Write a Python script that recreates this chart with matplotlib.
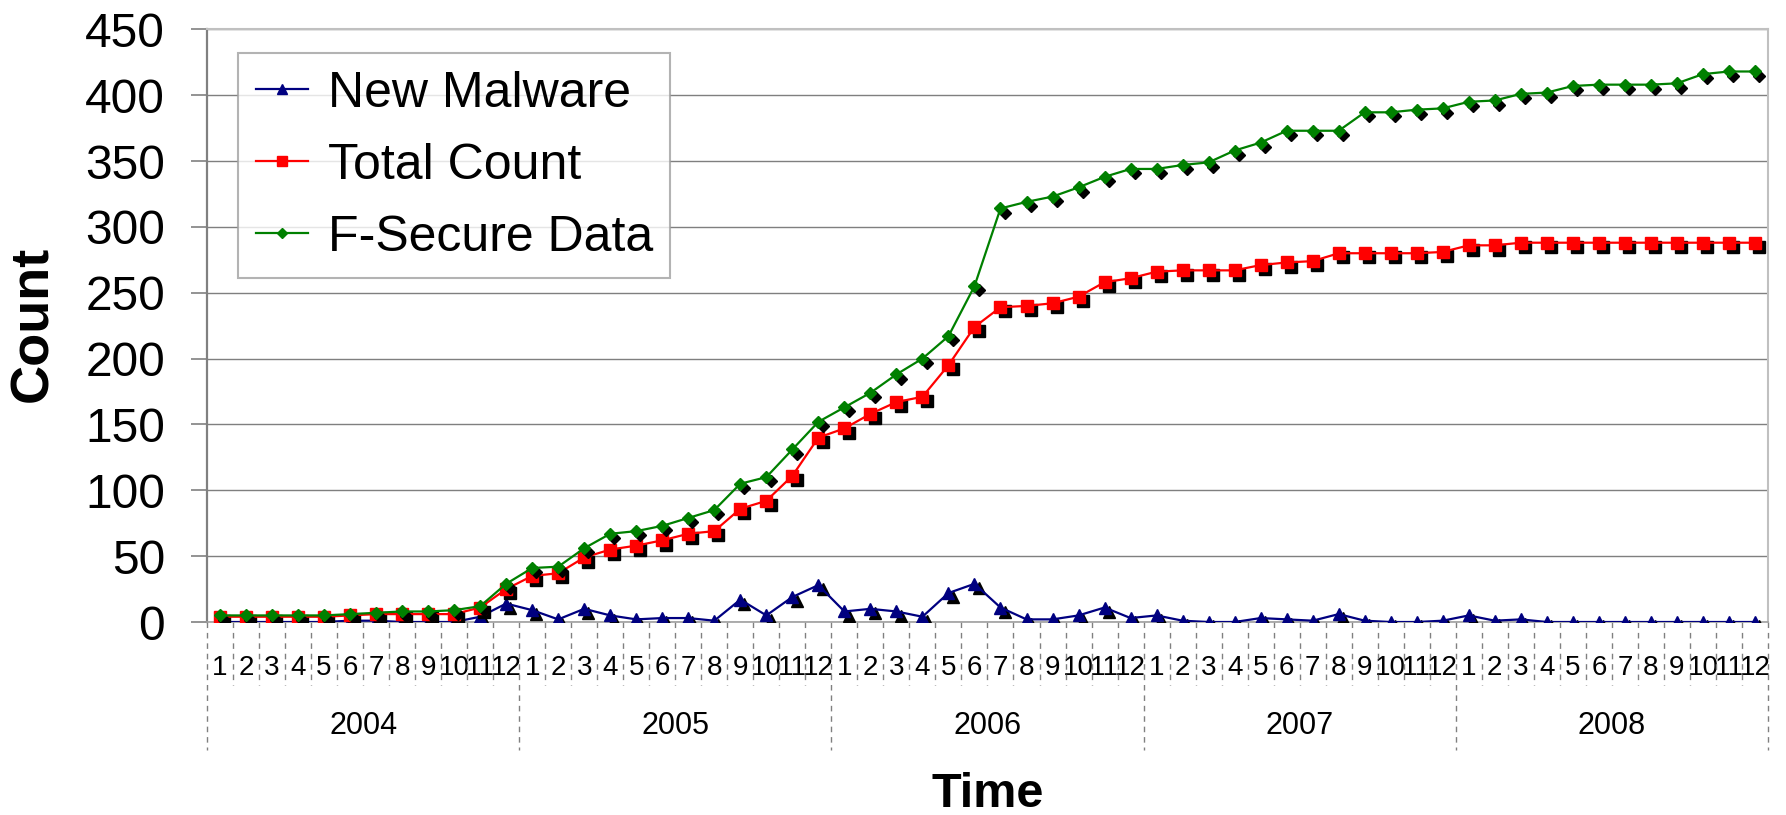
import numpy as np
import matplotlib
matplotlib.use("Agg")
import matplotlib.pyplot as plt
from matplotlib.transforms import offset_copy, blended_transform_factory

plt.rcParams["font.family"] = ["Liberation Sans", "DejaVu Sans"]

# Monthly counts, Jan 2004 .. Dec 2008
years = ["2004", "2005", "2006", "2007", "2008"]
months = [str(m) for m in range(1, 13)]

new_malware = [
    0, 0, 0, 0, 0, 1, 1, 0, 0, 0, 4, 14,
    9, 2, 10, 5, 2, 3, 3, 1, 17, 5, 19, 28,
    8, 10, 8, 4, 22, 29, 11, 2, 2, 5, 11, 3,
    5, 1, 0, 0, 3, 2, 1, 6, 1, 0, 0, 1,
    5, 1, 2, 0, 0, 0, 0, 0, 0, 0, 0, 0,
]
total_count = [
    4, 4, 4, 4, 4, 5, 6, 6, 6, 6, 11, 25,
    35, 37, 49, 55, 58, 62, 67, 69, 86, 92, 111, 140,
    147, 158, 167, 171, 195, 224, 239, 240, 242, 247, 258, 261,
    266, 267, 267, 267, 271, 273, 274, 280, 280, 280, 280, 281,
    286, 286, 288, 288, 288, 288, 288, 288, 288, 288, 288, 288,
]
fsecure = [
    5, 5, 5, 5, 5, 6, 7, 8, 8, 9, 12, 29,
    41, 42, 56, 67, 69, 73, 79, 85, 105, 110, 131, 152,
    163, 174, 188, 200, 217, 255, 314, 319, 323, 330, 338, 344,
    344, 347, 349, 358, 364, 373, 373, 373, 387, 387, 389, 390,
    395, 396, 401, 402, 407, 408, 408, 408, 409, 416, 418, 418,
]

series = [
    ("New Malware", new_malware, "#000080", "^", 9.0),
    ("Total Count", total_count, "#FF0000", "s", 9.0),
    ("F-Secure Data", fsecure, "#008000", "D", 6.6),
]

fig = plt.figure(figsize=(17.86, 8.15), dpi=100)
ax = fig.add_axes([0.1159, 0.2368, 0.874, 0.7272])

x = np.arange(len(total_count))
for i, (name, vals, color, marker, ms) in enumerate(series):
    # drop shadow under each marker, shifted down/right
    shadow = offset_copy(ax.transData, fig=fig, x=3, y=-3, units="points")
    ax.plot(x, vals, linestyle="none", marker=marker, ms=ms, color="black",
            mec="black", transform=shadow, zorder=3 + 2 * i)
    ax.plot(x, vals, color=color, lw=1.6, marker=marker, ms=ms, mec=color,
            label=name, zorder=4 + 2 * i)

ax.set_xlim(-0.5, len(x) - 0.5)
ax.set_ylim(0, 450)
ax.set_yticks(np.arange(0, 451, 50))
ax.tick_params(axis="y", labelsize=34.5, length=11.2, width=1.2,
               color="#808080", pad=19)
ax.yaxis.grid(True, color="#7f7f7f", lw=1.0)
ax.set_axisbelow(True)

ax.set_xticks(x)
ax.set_xticklabels(months * len(years))
ax.tick_params(axis="x", length=0, labelsize=20, pad=24)

for side in ["top", "right"]:
    ax.spines[side].set_color("#c0c0c0")
    ax.spines[side].set_linewidth(1.5)
ax.spines["left"].set_color("#808080")
ax.spines["left"].set_linewidth(1.6)
ax.spines["bottom"].set_color("#a0a0a0")
ax.spines["bottom"].set_linewidth(1.2)

# two-level category axis: month separators and year separators
trans = blended_transform_factory(ax.transData, ax.transAxes)
for k in range(len(x) + 1):
    bottom = -0.216 if k % 12 == 0 else -0.106
    ax.plot([k - 0.5, k - 0.5], [0, bottom], transform=trans, clip_on=False,
            color="#808080", lw=1.0, linestyle=(0, (4, 3.5)))
for j, yr in enumerate(years):
    ax.text(12 * j + 5.5, -0.1755, yr, transform=trans, ha="center",
            va="center", fontsize=22)

ax.set_ylabel("Count", fontsize=39, fontweight="bold")
ax.yaxis.set_label_coords(-0.095, 0.503)
ax.set_xlabel("Time", fontsize=35, fontweight="bold", va="top")
ax.xaxis.set_label_coords(0.5, -0.253)

leg = ax.legend(loc="upper left", bbox_to_anchor=(0.0199, 0.96),
                borderaxespad=0, fontsize=36, frameon=True, fancybox=False,
                handlelength=1.04, handletextpad=0.4, labelspacing=0.52,
                borderpad=0.35, markerscale=0.75)
leg.get_frame().set_edgecolor("#a0a0a0")
leg.get_frame().set_linewidth(1.5)

fig.savefig("out.png", dpi=100)
